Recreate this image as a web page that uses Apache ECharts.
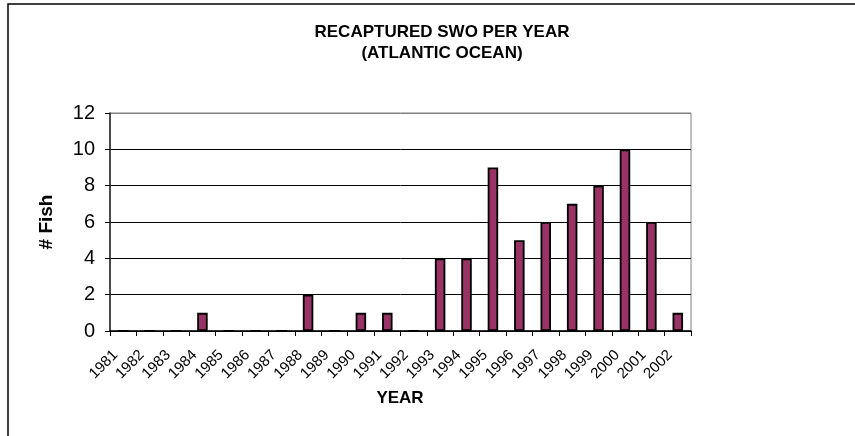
<!DOCTYPE html>
<html>
<head>
<meta charset="utf-8">
<script src="https://cdn.jsdelivr.net/npm/echarts@6/dist/echarts.min.js"></script>
<style>
  html, body { margin: 0; padding: 0; background: #fff; }
  #chart { width: 855px; height: 436px; }
</style>
</head>
<body>
<div id="chart"></div>
<script>
// Recaptured swordfish tags per year, Atlantic Ocean
const years = ['1981','1982','1983','1984','1985','1986','1987','1988','1989','1990','1991',
               '1992','1993','1994','1995','1996','1997','1998','1999','2000','2001','2002'];
const fishCounts = [0, 0, 0, 1, 0, 0, 0, 2, 0, 1, 1, 0, 4, 4, 9, 5, 6, 7, 8, 10, 6, 1];
const yTicks = [0, 2, 4, 6, 8, 10, 12];

const FONT = '"Liberation Sans", Arial, sans-serif';

const chart = echarts.init(document.getElementById('chart'), null, { renderer: 'canvas' });

chart.setOption({
  backgroundColor: '#fff',
  animation: false,
  title: {
    text: 'RECAPTURED SWO PER YEAR\n(ATLANTIC OCEAN)',
    left: 437,
    top: 17,
    textAlign: 'center',
    textStyle: {
      fontFamily: FONT, fontSize: 17, fontWeight: 'bold', color: '#000',
      lineHeight: 21, align: 'center'
    }
  },
  graphic: [
    // outer chart frame (runs off the right and bottom edges)
    {
      type: 'rect', silent: true, z: -1,
      shape: { x: 8, y: 4, width: 1000, height: 600 },
      style: { fill: 'none', stroke: '#000', lineWidth: 1.5 }
    },
    {
      type: 'text', silent: true,
      x: 47, y: 222, rotation: Math.PI / 2,
      style: {
        text: '# Fish', fontFamily: FONT, fontSize: 19, fontWeight: 'bold',
        fill: '#000', align: 'center', verticalAlign: 'middle'
      }
    },
    {
      type: 'text', silent: true,
      x: 400, y: 398,
      style: {
        text: 'YEAR', fontFamily: FONT, fontSize: 17, fontWeight: 'bold',
        fill: '#000', align: 'center', verticalAlign: 'middle'
      }
    }
  ],
  grid: {
    left: 110, right: 164, top: 113, bottom: 105,
    show: true, borderColor: '#808080', borderWidth: 1, backgroundColor: '#fff'
  },
  xAxis: {
    type: 'category',
    data: years,
    boundaryGap: true,
    axisLine: { lineStyle: { color: '#000', width: 1.5 } },
    axisTick: { show: true, length: 5, inside: false, lineStyle: { color: '#000', width: 1 } },
    axisLabel: {
      interval: 0, rotate: 45, margin: 14, padding: [0, 11, 0, 0],
      fontFamily: FONT, fontSize: 15, color: '#000'
    }
  },
  yAxis: {
    type: 'value',
    min: yTicks[0],
    max: yTicks[yTicks.length - 1],
    interval: 2,
    axisLine: { show: true, lineStyle: { color: '#222', width: 1.5 } },
    axisTick: { show: true, length: 5, lineStyle: { color: '#000', width: 1 } },
    axisLabel: { margin: 15, fontFamily: FONT, fontSize: 20, color: '#000' },
    splitLine: {
      show: true,
      lineStyle: { color: ['#000', '#000', '#000', '#000', '#000', '#000', '#808080'], width: 1 }
    }
  },
  series: [{
    type: 'bar',
    data: fishCounts,
    barWidth: 10.5,
    itemStyle: { color: '#993366', borderColor: '#000', borderWidth: 1.8 }
  }]
});
</script>
</body>
</html>
